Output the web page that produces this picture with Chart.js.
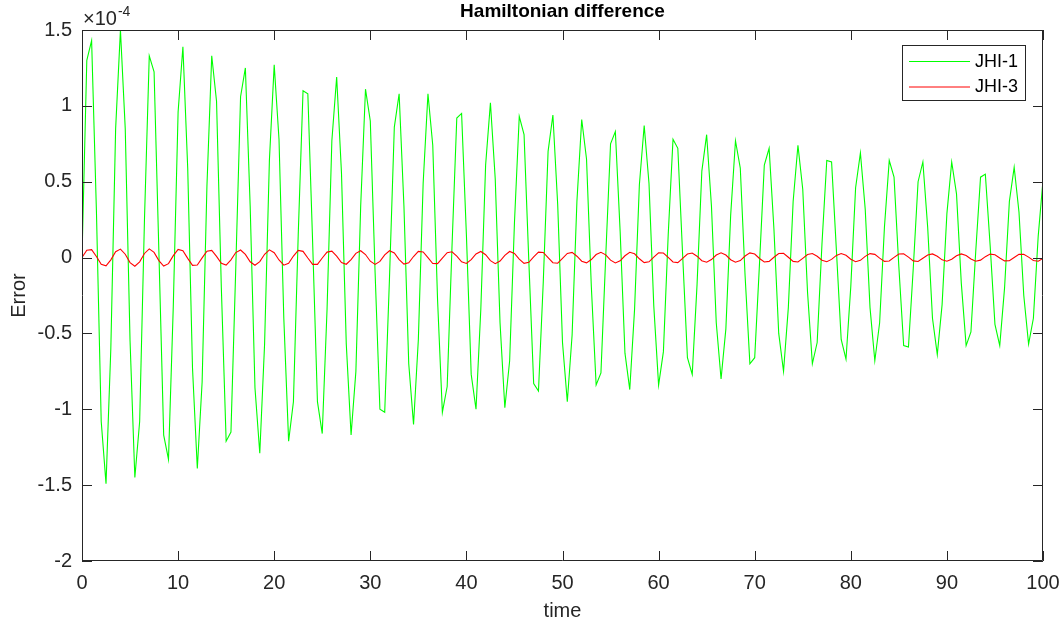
<!DOCTYPE html>
<html>
<head>
<meta charset="utf-8">
<title>Hamiltonian difference</title>
<script src="https://cdn.jsdelivr.net/npm/chart.js@4.4.1/dist/chart.umd.min.js"></script>
<style>
  html, body { margin: 0; padding: 0; background: #fff; }
  #chart-wrap { width: 1064px; height: 630px; }
</style>
</head>
<body>
<div id="chart-wrap"><canvas id="hamiltonian-chart" width="1064" height="630"></canvas></div>
<script>
// sampling step of both runs (time units)
const timeStep = 0.5;

// errors in units of 1e-4, one value per time step
const jhi1Error = [
  0, 1.30, 1.43, 0.31, -1.08, -1.49, -0.60, 0.85, 1.50, 0.85, -0.55, -1.45, -1.08, 0.25, 1.33, 1.225,
  0.04, -1.17, -1.33, -0.32, 0.96, 1.39, 0.59, -0.73, -1.39, -0.82, 0.47, 1.33, 1.03, -0.20, -1.21, -1.15,
  -0.07, 1.06, 1.25, 0.34, -0.86, -1.29, -0.57, 0.64, 1.27, 0.78, -0.40, -1.21, -0.95, 0.15, 1.10, 1.08,
  0.10, -0.95, -1.16, -0.34, 0.77, 1.19, 0.56, -0.57, -1.17, -0.75, 0.34, 1.11, 0.90, -0.10, -1.00, -1.02,
  -0.13, 0.86, 1.08, 0.34, -0.70, -1.10, -0.54, 0.49, 1.08, 0.74, -0.28, -1.02, -0.85, 0.07, 0.92, 0.95,
  0.15, -0.77, -1.00, -0.34, 0.61, 1.02, 0.52, -0.43, -0.99, -0.68, 0.23, 0.93, 0.81, -0.03, -0.83, -0.88,
  -0.16, 0.70, 0.94, 0.35, -0.56, -0.95, -0.51, 0.37, 0.91, 0.65, -0.19, -0.84, -0.76, 0.01, 0.75, 0.83,
  0.17, -0.63, -0.87, -0.34, 0.48, 0.87, 0.49, -0.32, -0.84, -0.62, 0.15, 0.78, 0.72, 0.02, -0.66, -0.77,
  -0.18, 0.57, 0.81, 0.34, -0.43, -0.80, -0.47, 0.28, 0.77, 0.59, -0.12, -0.70, -0.66, -0.04, 0.61, 0.72,
  0.19, -0.50, -0.75, -0.33, 0.37, 0.74, 0.45, -0.23, -0.70, -0.56, 0.09, 0.64, 0.63, 0.05, -0.54, -0.67,
  -0.19, 0.46, 0.69, 0.32, -0.33, -0.68, -0.43, 0.20, 0.64, 0.53, -0.06, -0.58, -0.59, -0.07, 0.50, 0.63,
  0.20, -0.40, -0.64, -0.31, 0.29, 0.63, 0.42, -0.17, -0.58, -0.49, 0.04, 0.53, 0.55, 0.08, -0.44, -0.58,
  -0.20, 0.37, 0.595, 0.30, -0.25, -0.57, -0.40, 0.14, 0.51
];

const jhi3Error = [
  0, 0.048, 0.052, 0.007, -0.044, -0.054, -0.015, 0.039, 0.056, 0.022, -0.033, -0.057, -0.028,
  0.027, 0.057, 0.034, -0.020, -0.056, -0.040, 0.013, 0.054, 0.045, -0.005, -0.051, -0.049,
  -0.002, 0.042, 0.047, 0.008, -0.038, -0.049, -0.015, 0.033, 0.050, 0.021, -0.028, -0.051, -0.027,
  0.022, 0.051, 0.032, -0.016, -0.050, -0.037, 0.010, 0.047, 0.041, -0.003, -0.045, -0.045,
  -0.003, 0.036, 0.042, 0.009, -0.033, -0.044, -0.014, 0.028, 0.045, 0.020, -0.024, -0.045, -0.025,
  0.018, 0.045, 0.030, -0.013, -0.043, -0.034, 0.007, 0.041, 0.037, -0.001, -0.039, -0.040,
  -0.004, 0.032, 0.038, 0.009, -0.028, -0.039, -0.014, 0.024, 0.040, 0.019, -0.020, -0.040, -0.023,
  0.015, 0.040, 0.027, -0.010, -0.038, -0.031, 0.005, 0.036, 0.034, 0.000, -0.034, -0.037,
  -0.005, 0.027, 0.034, 0.009, -0.024, -0.035, -0.013, 0.020, 0.035, 0.018, -0.017, -0.035, -0.021,
  0.012, 0.035, 0.025, -0.008, -0.033, -0.028, 0.003, 0.031, 0.030, 0.001, -0.029, -0.033,
  -0.005, 0.023, 0.030, 0.009, -0.021, -0.031, -0.013, 0.017, 0.031, 0.017, -0.014, -0.031, -0.020,
  0.010, 0.031, 0.023, -0.006, -0.029, -0.025, 0.002, 0.027, 0.028, 0.002, -0.025, -0.029,
  -0.005, 0.020, 0.027, 0.009, -0.017, -0.027, -0.012, 0.014, 0.027, 0.015, -0.011, -0.027, -0.018,
  0.008, 0.026, 0.021, -0.004, -0.025, -0.023, 0.001, 0.024, 0.025, 0.003, -0.022, -0.026,
  -0.005, 0.017, 0.024, 0.009, -0.015, -0.024, -0.011, 0.012, 0.024, 0.014, -0.009, -0.024, -0.017,
  0.006, 0.023, 0.019, -0.003, -0.022, -0.021, 0.000, 0.021, 0.022, 0.003, -0.019, -0.024,
  -0.006
];

const seriesLabels = ["JHI-1", "JHI-3"];
const seriesColors = ["#00ff00", "#ff0000"];
const xTicks = [0, 10, 20, 30, 40, 50, 60, 70, 80, 90, 100];
const yTicks = [-2, -1.5, -1, -0.5, 0, 0.5, 1, 1.5];
const yExponent = "-4";
const chartTitle = "Hamiltonian difference";

const fontFamily = "'Liberation Sans', Arial, Helvetica, sans-serif";
const axisColor = "#262626";

function toPoints(values) {
  return values.map((v, i) => ({ x: i * timeStep, y: v }));
}

// MATLAB style box: frame plus inward ticks on all four sides, title, legend
const boxAxesPlugin = {
  id: "boxAxes",
  afterDraw(chart) {
    const ctx = chart.ctx;
    const area = chart.chartArea;
    const xs = chart.scales.x;
    const ys = chart.scales.y;
    const tickLen = 10;

    ctx.save();
    ctx.strokeStyle = axisColor;
    ctx.lineWidth = 1;
    ctx.beginPath();
    ctx.rect(area.left + 0.5, area.top + 0.5, area.right - area.left - 1, area.bottom - area.top - 1);

    xTicks.forEach((v) => {
      const px = Math.round(xs.getPixelForValue(v)) + 0.5;
      ctx.moveTo(px, area.bottom);
      ctx.lineTo(px, area.bottom - tickLen);
      ctx.moveTo(px, area.top);
      ctx.lineTo(px, area.top + tickLen);
    });
    yTicks.forEach((v) => {
      const py = Math.round(ys.getPixelForValue(v)) + 0.5;
      ctx.moveTo(area.left, py);
      ctx.lineTo(area.left + tickLen, py);
      ctx.moveTo(area.right, py);
      ctx.lineTo(area.right - tickLen, py);
    });
    ctx.stroke();

    // title centred over the axes
    ctx.fillStyle = "#000";
    ctx.textAlign = "center";
    ctx.textBaseline = "middle";
    ctx.font = "bold 19px " + fontFamily;
    ctx.fillText(chartTitle, (area.left + area.right) / 2, 12);

    // x10^-4 multiplier above the y axis
    ctx.fillStyle = axisColor;
    ctx.textBaseline = "alphabetic";
    ctx.textAlign = "left";
    ctx.font = "20px " + fontFamily;
    ctx.fillText("\u00d710", area.left + 1, area.top - 5);
    const w = ctx.measureText("\u00d710").width;
    ctx.font = "14px " + fontFamily;
    ctx.fillText(yExponent, area.left + 2 + w, area.top - 14);

    // legend box, top right inside the axes
    const boxRight = area.right - 17;
    const boxTop = area.top + 15;
    const boxW = 124;
    const boxH = 56;
    const boxLeft = boxRight - boxW;
    ctx.fillStyle = "#fff";
    ctx.fillRect(boxLeft, boxTop, boxW, boxH);
    ctx.strokeStyle = axisColor;
    ctx.strokeRect(boxLeft + 0.5, boxTop + 0.5, boxW - 1, boxH - 1);

    ctx.font = "18px " + fontFamily;
    ctx.textBaseline = "middle";
    chart.data.datasets.forEach((ds, i) => {
      const y = boxTop + 16 + i * 25.5;
      ctx.strokeStyle = ds.borderColor;
      ctx.beginPath();
      ctx.moveTo(boxLeft + 7, y + 0.5);
      ctx.lineTo(boxLeft + 68, y + 0.5);
      ctx.stroke();
      ctx.fillStyle = "#000";
      ctx.fillText(ds.label, boxLeft + 73, y + 1);
    });
    ctx.restore();
  },
};

document.addEventListener("DOMContentLoaded", function () {
  const ctx = document.getElementById("hamiltonian-chart").getContext("2d");

  new Chart(ctx, {
    type: "line",
    data: {
      datasets: [
        {
          label: seriesLabels[0],
          data: toPoints(jhi1Error),
          borderColor: seriesColors[0],
          borderWidth: 1.1,
          pointRadius: 0,
          tension: 0,
          order: 1,
        },
        {
          label: seriesLabels[1],
          data: toPoints(jhi3Error),
          borderColor: seriesColors[1],
          borderWidth: 1.1,
          pointRadius: 0,
          tension: 0,
          order: 0,
        },
      ],
    },
    options: {
      responsive: false,
      animation: false,
      layout: { padding: { left: 0, right: 21, top: 30, bottom: 0 } },
      plugins: {
        legend: { display: false },
        tooltip: { enabled: false },
        title: { display: false },
      },
      scales: {
        x: {
          type: "linear",
          min: 0,
          max: 100,
          afterBuildTicks: (s) => { s.ticks = xTicks.map((v) => ({ value: v })); },
          afterFit: (s) => {
            s.height = 69;
            s.paddingLeft = 0;
            s.paddingRight = 0;
          },
          grid: { display: false, drawTicks: false },
          border: { display: false },
          ticks: {
            color: axisColor,
            padding: 10,
            maxRotation: 0,
            font: { family: fontFamily, size: 20 },
            callback: (v) => String(v),
          },
          title: {
            display: true,
            text: "time",
            color: axisColor,
            font: { family: fontFamily, size: 20 },
            padding: { top: 0, bottom: 7 },
          },
        },
        y: {
          type: "linear",
          min: -2,
          max: 1.5,
          afterBuildTicks: (s) => { s.ticks = yTicks.map((v) => ({ value: v })); },
          afterFit: (s) => {
            s.width = 82;
            s.paddingTop = 0;
            s.paddingBottom = 0;
          },
          grid: { display: false, drawTicks: false },
          border: { display: false },
          ticks: {
            color: axisColor,
            padding: 10,
            font: { family: fontFamily, size: 20 },
            callback: (v) => String(v),
          },
          title: {
            display: true,
            text: "Error",
            color: axisColor,
            font: { family: fontFamily, size: 20 },
            padding: { top: 7, bottom: 0 },
          },
        },
      },
    },
    plugins: [boxAxesPlugin],
  });
});
</script>
</body>
</html>
